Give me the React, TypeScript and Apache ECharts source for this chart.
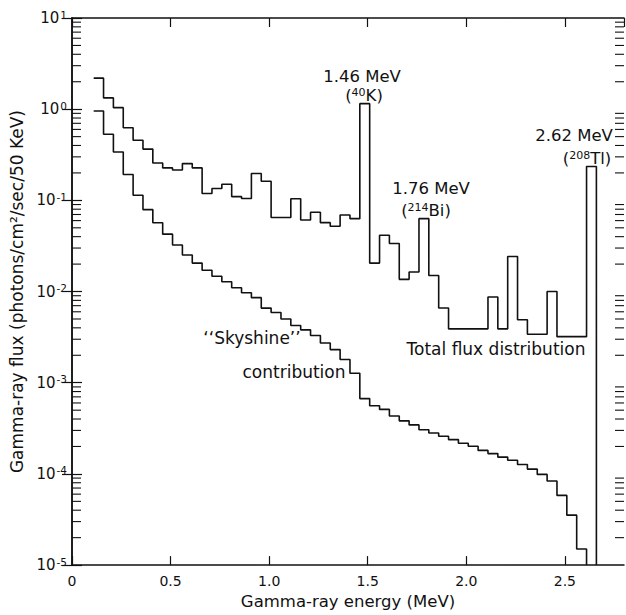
import React, { useEffect, useRef } from "react";
import * as echarts from "echarts";

// Histogram binning (50 keV bins)
const BIN_START = 0.11; // MeV, left edge of first bin
const BIN_WIDTH = 0.05; // MeV
const Y_MIN = 1e-5;
const Y_MAX = 10;
const X_MAX = 2.8;

// Total flux distribution, one value per 50 keV bin
const totalFlux = [
  2.19, 1.33, 1.04, 0.625, 0.456, 0.365, 0.257, 0.227, 0.215, 0.253,
  0.227, 0.119, 0.135, 0.15, 0.11, 0.105, 0.197, 0.162, 0.065, 0.065,
  0.104, 0.061, 0.074, 0.057, 0.052, 0.069, 0.063, 1.15, 0.0205, 0.0415,
  0.0337, 0.0136, 0.0164, 0.063, 0.015, 0.0066, 0.0039, 0.0039, 0.0039, 0.0039,
  0.0087, 0.0039, 0.0242, 0.0049, 0.0034, 0.0034, 0.01, 0.0032, 0.0032, 0.0032,
  0.235,
];

// "Skyshine" contribution, one value per 50 keV bin
const skyshine = [
  0.955, 0.53, 0.339, 0.192, 0.114, 0.0792, 0.0569, 0.0426, 0.0324, 0.0252,
  0.0205, 0.0171, 0.0147, 0.0128, 0.011, 0.0097, 0.00857, 0.00658, 0.0059, 0.005,
  0.00424, 0.0038, 0.0033, 0.00273, 0.00231, 0.0018, 0.00127, 0.00067, 0.00056, 0.00051,
  0.000432, 0.000382, 0.000345, 0.000305, 0.000281, 0.000259, 0.000238, 0.000217, 0.000201, 0.000181,
  0.000167, 0.000153, 0.000141, 0.000127, 0.000113, 0.0000988, 0.0000836, 0.0000581, 0.0000353, 0.000015,
];

const xTickLabels = ["0", "0.5", "1.0", "1.5", "2.0", "2.5"];
const xTickValues = [0, 0.5, 1.0, 1.5, 2.0, 2.5];

const FONT = "'DejaVu Sans', 'Liberation Sans', Arial, sans-serif";
const INK = "#111";

function stepPoints(vals: number[]): number[][] {
  const pts: number[][] = [];
  vals.forEach((v, i) => {
    const x0 = BIN_START + BIN_WIDTH * i;
    pts.push([x0, v], [x0 + BIN_WIDTH, v]);
  });
  const last = BIN_START + BIN_WIDTH * vals.length;
  pts.push([last, Y_MIN]);
  return pts;
}

function minorLogTicks(): number[][] {
  const out: number[][] = [];
  for (let e = -5; e < 1; e++) {
    for (let m = 2; m <= 9; m++) out.push([0, m * Math.pow(10, e)]);
  }
  return out;
}

export default function App() {
  const ref = useRef<HTMLDivElement>(null);

  useEffect(() => {
    if (!ref.current) return;
    const chart = echarts.init(ref.current, null, { renderer: "svg" });

    const axisLine = { show: true, lineStyle: { color: INK, width: 1.5 } };
    const tick = { show: true, inside: true, length: 9, lineStyle: { color: INK, width: 1.2 } };

    const option: any = {
      animation: false,
      backgroundColor: "#fff",
      grid: { left: 72, right: 2, top: 18, bottom: 42, containLabel: false },
      xAxis: [
        {
          type: "value",
          min: 0,
          max: X_MAX,
          interval: 0.5,
          position: "bottom",
          axisLine,
          axisTick: tick,
          splitLine: { show: false },
          axisLabel: {
            color: INK,
            fontSize: 14,
            fontFamily: FONT,
            margin: 9,
            showMaxLabel: false,
            formatter: (v: number) => {
              const i = xTickValues.findIndex((t) => Math.abs(t - v) < 1e-9);
              return i >= 0 ? xTickLabels[i] : "";
            },
          },
          name: "Gamma-ray energy (MeV)",
          nameLocation: "middle",
          nameGap: 25,
          nameTextStyle: { color: INK, fontSize: 16.5, fontFamily: FONT },
        },
        {
          type: "value",
          min: 0,
          max: X_MAX,
          interval: 0.5,
          position: "top",
          axisLine,
          axisTick: tick,
          axisLabel: { show: false },
          splitLine: { show: false },
        },
      ],
      yAxis: [
        {
          type: "log",
          logBase: 10,
          min: Y_MIN,
          max: Y_MAX,
          position: "left",
          axisLine,
          axisTick: { ...tick, length: 10 },
          splitLine: { show: false },
          axisLabel: {
            color: INK,
            fontFamily: FONT,
            margin: 5,
            formatter: (v: number) => `{b|10}{s|${Math.round(Math.log10(v))}}`,
            rich: {
              b: { fontSize: 15, fontFamily: FONT, color: INK },
              s: { fontSize: 10.5, fontFamily: FONT, color: INK, padding: [0, 0, 7, 1] },
            },
          },
          name: "Gamma-ray flux (photons/cm\u00B2/sec/50 KeV)",
          nameLocation: "middle",
          nameGap: 47,
          nameTextStyle: { color: INK, fontSize: 17, fontFamily: FONT },
        },
        {
          type: "log",
          logBase: 10,
          min: Y_MIN,
          max: Y_MAX,
          position: "right",
          axisLine,
          axisTick: { ...tick, length: 10 },
          axisLabel: { show: false },
          splitLine: { show: false },
        },
      ],
      series: [
        {
          name: "Total flux distribution",
          type: "line",
          xAxisIndex: 0,
          yAxisIndex: 0,
          data: stepPoints(totalFlux),
          symbol: "none",
          lineStyle: { color: INK, width: 1.6 },
          z: 3,
        },
        {
          name: "Skyshine contribution",
          type: "line",
          xAxisIndex: 0,
          yAxisIndex: 0,
          data: stepPoints(skyshine),
          symbol: "none",
          lineStyle: { color: INK, width: 1.6 },
          z: 3,
        },
        {
          type: "custom",
          xAxisIndex: 0,
          yAxisIndex: 0,
          data: minorLogTicks(),
          silent: true,
          clip: false,
          renderItem: (params: any, api: any) => {
            const v = api.value(1);
            const pl = api.coord([0, v]);
            const pr = api.coord([X_MAX, v]);
            const style = { stroke: INK, lineWidth: 1.1 };
            return {
              type: "group",
              children: [
                { type: "line", shape: { x1: pl[0], y1: pl[1], x2: pl[0] + 9, y2: pl[1] }, style },
                { type: "line", shape: { x1: pr[0] - 9, y1: pr[1], x2: pr[0], y2: pr[1] }, style },
              ],
            };
          },
        },
      ],
    };

    chart.setOption(option);

    const supRich = {
      n: { fontSize: 16.5, fontFamily: FONT, fill: INK },
      s: { fontSize: 11, fontFamily: FONT, fill: INK, padding: [0, 0, 6, 0] },
    };
    const txt = (x: number, y: number, text: string, size: number, rich?: any) => ({
      type: "text",
      x,
      y,
      silent: true,
      style: {
        text,
        fontSize: size,
        fontFamily: FONT,
        fill: INK,
        align: "center",
        verticalAlign: "middle",
        ...(rich ? { rich } : {}),
      },
    });

    chart.setOption({
      graphic: [
        txt(362, 76, "1.46 MeV", 16.5),
        txt(364, 95, "{n|(}{s|40}{n|K)}", 16.5, supRich),
        txt(431, 188, "1.76 MeV", 16.5),
        txt(426, 210, "{n|(}{s|214}{n|Bi)}", 16.5, supRich),
        txt(574, 135, "2.62 MeV", 16.5),
        txt(587, 158, "{n|(}{s|208}{n|Tl)}", 16.5, supRich),
        txt(496, 349, "Total flux distribution", 17),
        txt(252, 338, "\u2018\u2018Skyshine\u2019\u2019", 17),
        txt(294, 372, "contribution", 17),
      ],
    });

    return () => chart.dispose();
  }, []);

  return (
    <div
      ref={ref}
      style={{ position: "fixed", left: 0, top: 0, width: 626, height: 615, background: "#fff" }}
    />
  );
}
